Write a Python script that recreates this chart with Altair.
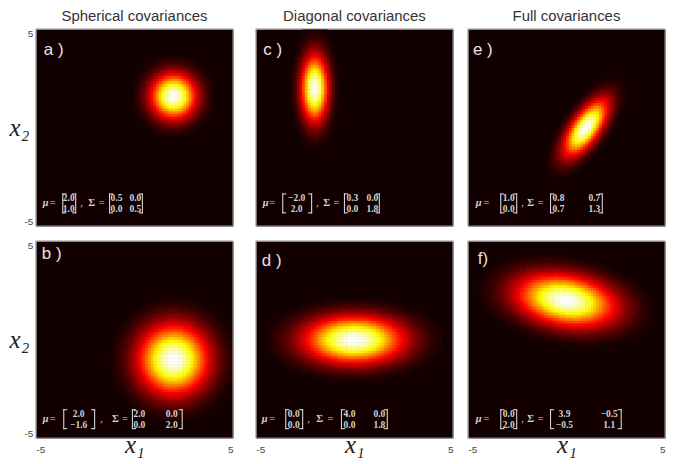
import numpy as np
import pandas as pd
import altair as alt

# ---------------- data ----------------
PANELS = ["a", "b", "c", "d", "e", "f"]
COL_TITLES = ["Spherical covariances", "Diagonal covariances", "Full covariances"]

# parameters printed in each panel
MU_TEXT = [["2.0", "1.0"], ["2.0", "\u22121.6"], ["\u22122.0", "2.0"],
           ["0.0", "0.0"], ["1.0", "0.0"], ["0.0", "2.0"]]
SIGMA_TEXT = [
    [["0.5", "0.0"], ["0.0", "0.5"]],
    [["2.0", "0.0"], ["0.0", "2.0"]],
    [["0.3", "0.0"], ["0.0", "1.8"]],
    [["4.0", "0.0"], ["0.0", "1.8"]],
    [["0.8", "0.7"], ["0.7", "1.3"]],
    [["3.9", "\u22120.5"], ["\u22120.5", "1.1"]],
]

# density parameters
MU_X = [2.0, 2.0, -2.0, 0.0, 1.0, 0.0]
MU_Y = [1.6, -1.0, 2.0, 0.0, 0.0, 2.0]
S_XX = [0.85, 2.0, 0.3, 4.0, 0.8, 3.9]
S_XY = [0.0, 0.0, 0.0, 0.0, 0.7, -0.5]
S_YY = [0.85, 2.0, 1.8, 0.9, 1.3, 1.1]

AXIS_VALUES = [-5, 5]

# ---------------- style / layout ----------------
W = 198
H = 198
GRID = 72
GAMMA = 1.37
BG = "#120000"
FRAME = "#9a9a9a"
FORM_COLOR = "#d4d4d4"
LABEL_COLOR = "#e4e4e4"


def hot(m=64):
    n = int(3 / 8 * m)
    cols = []
    for i in range(m):
        r = min((i + 1) / n, 1.0)
        g = 0.0 if i < n else min((i + 1 - n) / n, 1.0)
        b = 0.0 if i < 2 * n else (i + 1 - 2 * n) / (m - 2 * n)
        cols.append("#%02x%02x%02x" % (round(r * 255), round(g * 255), round(b * 255)))
    return cols


HOT = hot(64)
CSCALE = alt.Scale(type="quantize", domain=[0, 1], range=HOT)

# formula layout: pixel offsets from the panel's left edge
FLAYOUT = {
    "a": dict(mu=7, eq1=17, b1L=27, vec=33, b1R=40, comma=46, sig=56, eq2=66, b2L=74, c1=81, c2=100, b2R=107),
    "b": dict(mu=7, eq1=17, b1L=28, vec=43, b1R=59, comma=66, sig=80, eq2=89.5, b2L=97, c1=104, c2=136.5, b2R=147),
    "c": dict(mu=7, eq1=16.5, b1L=27, vec=41, b1R=56, comma=62, sig=71, eq2=81, b2L=89, c1=97, c2=117, b2R=124),
    "d": dict(mu=6, eq1=16.5, b1L=30, vec=38, b1R=47, comma=53, sig=64, eq2=75, b2L=86, c1=94, c2=124, b2R=132),
    "e": dict(mu=8, eq1=18.5, b1L=33, vec=41, b1R=49, comma=55, sig=63, eq2=73, b2L=83, c1=91, c2=127, b2R=135),
    "f": dict(mu=8, eq1=18.5, b1L=33, vec=41, b1R=49, comma=55, sig=63, eq2=73, b2L=83, c1=97, c2=142, b2R=154),
}
# rows: pixels above the panel bottom
ROWS_TOP = (28.0, 17.5)
ROWS_BOTTOM = (24.5, 13.5)
BR_HALF = 9.5   # half bracket height, px
BR_TICK = 3.0   # bracket serif length, px
# panel letter: (px from left, baseline px from top)
LLAYOUT = {"a": (8, 26), "b": (6, 18), "c": (7.5, 26), "d": (6, 25), "e": (5, 26), "f": (10, 23)}


def px2x(px):
    return -5 + px * 10.0 / W


def py2y(py_above_bottom):
    return -5 + py_above_bottom * 10.0 / H


def heat_df(idx):
    step = 10.0 / GRID
    c = -5 + (np.arange(GRID) + 0.5) * step
    X, Y = np.meshgrid(c, c)
    sxx, sxy, syy = S_XX[idx], S_XY[idx], S_YY[idx]
    det = sxx * syy - sxy ** 2
    ddx = X - MU_X[idx]
    ddy = Y - MU_Y[idx]
    d2 = (syy * ddx ** 2 - 2 * sxy * ddx * ddy + sxx * ddy ** 2) / det
    v = np.exp(-0.5 * GAMMA * d2)
    df = pd.DataFrame({
        "x0": (X - step / 2).ravel(), "x1": (X + step / 2).ravel(),
        "y0": (Y - step / 2).ravel(), "y1": (Y + step / 2).ravel(),
        "v": v.ravel(),
    })
    return df[df["v"] >= 1.0 / 64]


def bracket_df(L, mid):
    rows = []
    lo, hi = mid - BR_HALF, mid + BR_HALF
    for key, sgn in (("b1L", 1), ("b2L", 1), ("b1R", -1), ("b2R", -1)):
        s = L[key]
        rows.append((s, s, lo, hi))
        rows.append((s, s + sgn * BR_TICK, hi, hi))
        rows.append((s, s + sgn * BR_TICK, lo, lo))
    return pd.DataFrame({
        "x": [px2x(r[0]) for r in rows], "xe": [px2x(r[1]) for r in rows],
        "y": [py2y(r[2]) for r in rows], "ye": [py2y(r[3]) for r in rows],
    })


SC = alt.Scale(domain=[-5, 5], nice=False, zero=False)

TITLE_FONT = "Liberation Serif"
XAXIS = alt.Axis(values=AXIS_VALUES, title="x\u2081", labelExpr="'' + datum.value",
                 labelFont="Liberation Sans", labelFontSize=10, labelColor="#444444",
                 labelPadding=7, labelFlush=True, ticks=False, domain=False, grid=False,
                 titleFont=TITLE_FONT, titleFontStyle="italic", titleFontWeight="normal",
                 titleFontSize=25, titleColor="#222222", titleY=6, titleBaseline="middle")
YAXIS = alt.Axis(values=AXIS_VALUES, title="x\u2082", labelExpr="'' + datum.value",
                 labelFont="Liberation Sans", labelFontSize=10, labelColor="#444444",
                 labelPadding=3, labelFlush=True, ticks=False, domain=False, grid=False,
                 titleFont=TITLE_FONT, titleFontStyle="italic", titleFontWeight="normal",
                 titleFontSize=25, titleColor="#222222", titleAngle=0, titleX=-17, titleY=99,
                 titleAlign="center", titleBaseline="middle")


def panel(idx, show_x, show_y, title=None):
    k = PANELS[idx]
    xa = XAXIS if show_x else None
    ya = YAXIS if show_y else None

    def xe(field):
        return alt.X(field, type="quantitative", scale=SC, axis=xa)

    def ye(field):
        return alt.Y(field, type="quantitative", scale=SC, axis=ya)

    heat = alt.Chart(heat_df(idx)).mark_rect(strokeWidth=0.7, clip=True).encode(
        x=xe("x0"), x2="x1", y=ye("y0"), y2="y1",
        color=alt.Color("v:Q", scale=CSCALE, legend=None),
        stroke=alt.Stroke("v:Q", scale=CSCALE, legend=None),
    )

    frame = alt.Chart(pd.DataFrame({"f": [0]})).mark_rect(
        fill="transparent", stroke=FRAME, strokeWidth=1
    ).encode(x=alt.value(0), x2=alt.value(W), y=alt.value(0), y2=alt.value(H))

    L = FLAYOUT[k]
    r1, r2 = ROWS_TOP if idx % 2 == 0 else ROWS_BOTTOM
    mid = (r1 + r2) / 2.0
    mu = MU_TEXT[idx]
    sg = SIGMA_TEXT[idx]

    nums = pd.DataFrame({
        "x": [px2x(L["vec"]), px2x(L["vec"]), px2x(L["c1"]), px2x(L["c2"]), px2x(L["c1"]), px2x(L["c2"])],
        "y": [py2y(r1), py2y(r2), py2y(r1), py2y(r1), py2y(r2), py2y(r2)],
        "t": [mu[0], mu[1], sg[0][0], sg[0][1], sg[1][0], sg[1][1]],
    })
    ops = pd.DataFrame({
        "x": [px2x(L["eq1"]), px2x(L["comma"]), px2x(L["eq2"])],
        "y": [py2y(mid), py2y(mid), py2y(mid)],
        "t": ["=", ",", "="],
    })
    mus = pd.DataFrame({"x": [px2x(L["mu"])], "y": [py2y(mid)], "t": ["\u03bc"]})
    sig = pd.DataFrame({"x": [px2x(L["sig"])], "y": [py2y(mid)], "t": ["\u03a3"]})
    lx, lb = LLAYOUT[k]
    lab = pd.DataFrame({"x": [px2x(lx)], "y": [5 - lb * 10.0 / H], "t": [k + ("" if k == "f" else " ") + ")"]})

    brackets = alt.Chart(bracket_df(L, mid)).mark_rule(
        color=FORM_COLOR, strokeWidth=1.1, strokeCap="square"
    ).encode(x=xe("x"), x2="xe", y=ye("y"), y2="ye")

    def txt(df, **kw):
        return alt.Chart(df).mark_text(**kw).encode(x=xe("x"), y=ye("y"), text="t:N")

    layers = [
        heat,
        brackets,
        txt(nums, font="Liberation Serif", fontSize=9.5, fontWeight="bold", align="center",
            baseline="middle", color=FORM_COLOR),
        txt(ops, font="Liberation Serif", fontSize=10.5, align="center", baseline="middle", color=FORM_COLOR),
        txt(mus, font="Liberation Serif", fontSize=10.5, fontWeight="bold", fontStyle="italic",
            align="left", baseline="middle", color=FORM_COLOR),
        txt(sig, font="Liberation Serif", fontSize=10.5, fontWeight="bold",
            align="center", baseline="middle", color=FORM_COLOR),
        txt(lab, font="Liberation Sans", fontSize=17, align="left", baseline="alphabetic", color=LABEL_COLOR),
        frame,
    ]
    ch = alt.layer(*layers).properties(width=W, height=H)
    if title is not None:
        ch = ch.properties(title=alt.TitleParams(title, font="Liberation Sans", fontSize=15,
                                                 fontWeight="normal", color="#333333",
                                                 anchor="middle", offset=4))
    return ch


a = panel(0, False, True, COL_TITLES[0])
b = panel(1, True, True)
c = panel(2, False, False, COL_TITLES[1])
d = panel(3, True, False)
e = panel(4, False, False, COL_TITLES[2])
f = panel(5, True, False)

row1 = alt.hconcat(alt.hconcat(a, c, spacing=21), e, spacing=13)
row2 = alt.hconcat(alt.hconcat(b, d, spacing=21), f, spacing=13)

chart = alt.vconcat(row1, row2, spacing=13).properties(padding=0).configure_view(
    fill=BG, stroke="transparent"
)

chart.save("out.html", embed_options={"renderer": "svg", "actions": False})
